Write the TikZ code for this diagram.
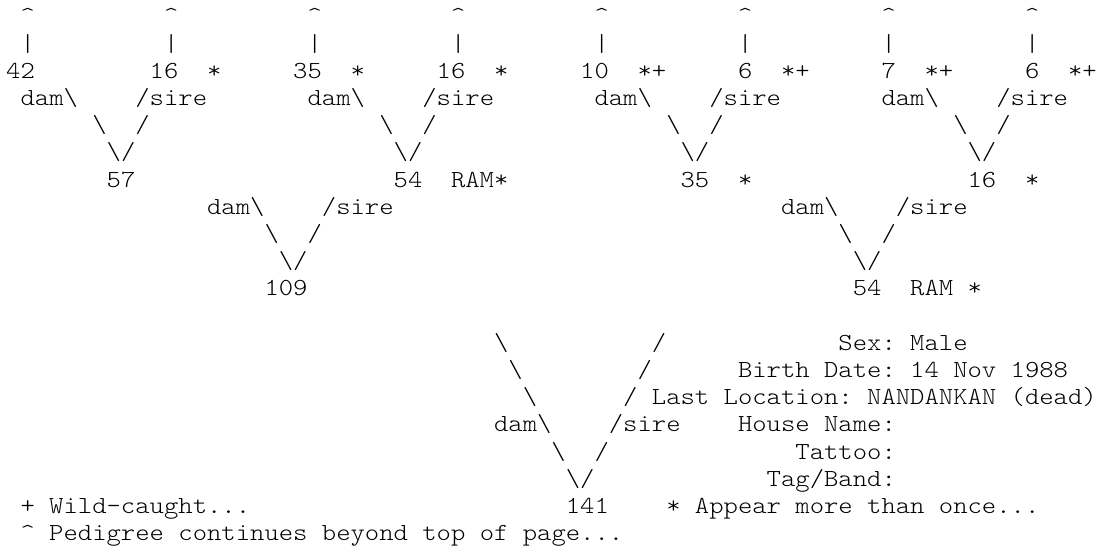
\documentclass[tikz,border=0pt]{standalone}
\usepackage{tikz}
\newcommand{\pedfont}{\ttfamily\fontseries{l}\fontsize{24.5}{24.5}\selectfont\frenchspacing}
\begin{document}
\begin{tikzpicture}
    [x=14.35pt,y=-27.2pt,
    txt/.style={anchor=base west,inner sep=0pt,font=\pedfont,xscale=1.1157,transform shape}]
    \useasboundingbox (-0.418,0.121) rectangle (76.59,20.342);
    %pedigree continues
    \node[txt] (up1) at (1,1) {\textasciicircum};
    \node[txt] (up2) at (11,1) {\textasciicircum};
    \node[txt] (up3) at (21,1) {\textasciicircum};
    \node[txt] (up4) at (31,1) {\textasciicircum};
    \node[txt] (up5) at (41,1) {\textasciicircum};
    \node[txt] (up6) at (51,1) {\textasciicircum};
    \node[txt] (up7) at (61,1) {\textasciicircum};
    \node[txt] (up8) at (71,1) {\textasciicircum};
    \node[txt] (bar1) at (1,2) {\textbar};
    \node[txt] (bar2) at (11,2) {\textbar};
    \node[txt] (bar3) at (21,2) {\textbar};
    \node[txt] (bar4) at (31,2) {\textbar};
    \node[txt] (bar5) at (41,2) {\textbar};
    \node[txt] (bar6) at (51,2) {\textbar};
    \node[txt] (bar7) at (61,2) {\textbar};
    \node[txt] (bar8) at (71,2) {\textbar};
    %great-grandparents
    \node[txt] (ggp1) at (0,3) {42};
    \node[txt] (ggp2) at (10,3) {16};
    \node[txt] (flg2) at (14,3) {*};
    \node[txt] (ggp3) at (20,3) {35};
    \node[txt] (flg3) at (24,3) {*};
    \node[txt] (ggp4) at (30,3) {16};
    \node[txt] (flg4) at (34,3) {*};
    \node[txt] (ggp5) at (40,3) {10};
    \node[txt] (flg5) at (44,3) {*+};
    \node[txt] (ggp6) at (51,3) {6};
    \node[txt] (flg6) at (54,3) {*+};
    \node[txt] (ggp7) at (61,3) {7};
    \node[txt] (flg7) at (64,3) {*+};
    \node[txt] (ggp8) at (71,3) {6};
    \node[txt] (flg8) at (74,3) {*+};
    %dam and sire
    \node[txt] (dam1) at (1,4) {dam\textbackslash};
    \node[txt] (sire1) at (9,4) {/sire};
    \node[txt] (dam2) at (21,4) {dam\textbackslash};
    \node[txt] (sire2) at (29,4) {/sire};
    \node[txt] (dam3) at (41,4) {dam\textbackslash};
    \node[txt] (sire3) at (49,4) {/sire};
    \node[txt] (dam4) at (61,4) {dam\textbackslash};
    \node[txt] (sire4) at (69,4) {/sire};
    \node[txt] (bsa1) at (6,5) {\textbackslash};
    \node[txt] (fsa1) at (9,5) {/};
    \node[txt] (bsa2) at (26,5) {\textbackslash};
    \node[txt] (fsa2) at (29,5) {/};
    \node[txt] (bsa3) at (46,5) {\textbackslash};
    \node[txt] (fsa3) at (49,5) {/};
    \node[txt] (bsa4) at (66,5) {\textbackslash};
    \node[txt] (fsa4) at (69,5) {/};
    \node[txt] (va1) at (7,6) {\textbackslash/};
    \node[txt] (va2) at (27,6) {\textbackslash/};
    \node[txt] (va3) at (47,6) {\textbackslash/};
    \node[txt] (va4) at (67,6) {\textbackslash/};
    %grandparents
    \node[txt] (gp1) at (7,7) {57};
    \node[txt] (gp2) at (27,7) {54};
    \node[txt] (flgp2) at (31,7) {RAM*};
    \node[txt] (gp3) at (47,7) {35};
    \node[txt] (flgp3) at (51,7) {*};
    \node[txt] (gp4) at (67,7) {16};
    \node[txt] (flgp4) at (71,7) {*};
    \node[txt] (dam5) at (14,8) {dam\textbackslash};
    \node[txt] (sire5) at (22,8) {/sire};
    \node[txt] (dam6) at (54,8) {dam\textbackslash};
    \node[txt] (sire6) at (62,8) {/sire};
    \node[txt] (bsb1) at (18,9) {\textbackslash};
    \node[txt] (fsb1) at (21,9) {/};
    \node[txt] (bsb2) at (58,9) {\textbackslash};
    \node[txt] (fsb2) at (61,9) {/};
    \node[txt] (vb1) at (19,10) {\textbackslash/};
    \node[txt] (vb2) at (59,10) {\textbackslash/};
    %parents
    \node[txt] (par1) at (18,11) {109};
    \node[txt] (par2) at (59,11) {54};
    \node[txt] (ram2) at (63,11) {RAM};
    \node[txt] (flpa2) at (67,11) {*};
    %animal
    \node[txt] (bsc1) at (34,13) {\textbackslash};
    \node[txt] (fsc1) at (45,13) {/};
    \node[txt] (sex) at (58,13) {Sex: Male};
    \node[txt] (bsc2) at (35,14) {\textbackslash};
    \node[txt] (fsc2) at (44,14) {/};
    \node[txt] (birth) at (51,14) {Birth Date: 14 Nov 1988};
    \node[txt] (bsc3) at (36,15) {\textbackslash};
    \node[txt] (fsc3) at (43,15) {/};
    \node[txt] (loc) at (45,15) {Last Location: NANDANKAN (dead)};
    \node[txt] (dam7) at (34,16) {dam\textbackslash};
    \node[txt] (sire7) at (42,16) {/sire};
    \node[txt] (house) at (51,16) {House Name:};
    \node[txt] (bsc4) at (38,17) {\textbackslash};
    \node[txt] (fsc4) at (41,17) {/};
    \node[txt] (tattoo) at (55,17) {Tattoo:};
    \node[txt] (vc) at (39,18) {\textbackslash/};
    \node[txt] (tag) at (53,18) {Tag/Band:};
    \node[txt] (self) at (39,19) {141};
    %legend
    \node[txt] (wild) at (1,19) {+ Wild-caught...};
    \node[txt] (more) at (46,19) {* Appear more than once...};
    \node[txt] (cont) at (1,20) {\textasciicircum{} Pedigree continues beyond top of page...};
\end{tikzpicture}
\end{document}
